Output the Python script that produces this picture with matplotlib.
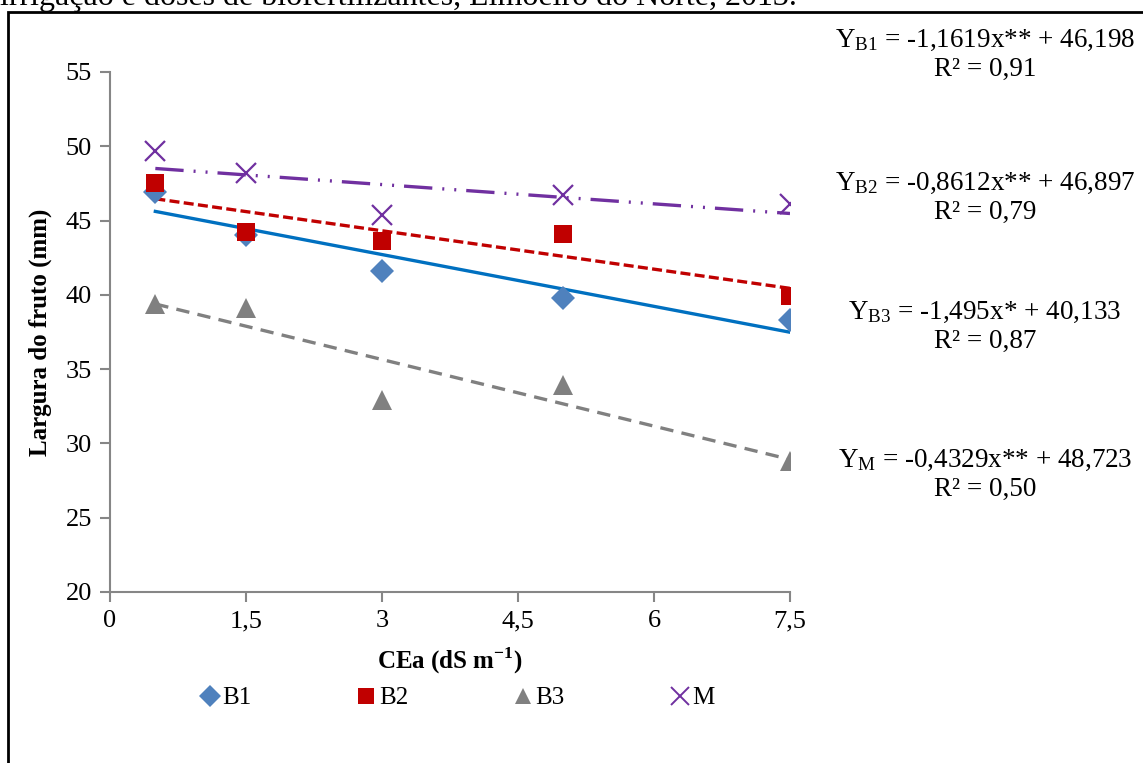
import matplotlib
matplotlib.use("Agg")
import matplotlib.pyplot as plt
from matplotlib.patches import Rectangle
from matplotlib.lines import Line2D
import numpy as np

plt.rcParams['font.family'] = ['Liberation Serif', 'DejaVu Serif']
plt.rcParams['mathtext.fontset'] = 'custom'
plt.rcParams['mathtext.rm'] = 'Liberation Serif'
plt.rcParams['mathtext.bf'] = 'Liberation Serif:bold'

# dados
cea = [0.5, 1.5, 3.0, 5.0, 7.5]
b1 = [46.9, 44.0, 41.6, 39.8, 38.3]
b2 = [47.5, 44.2, 43.6, 44.1, 39.9]
b3 = [39.4, 39.1, 32.9, 33.9, 28.8]
m = [49.7, 48.2, 45.4, 46.7, 46.1]

# coeficientes das retas (a*x + b)
coef_a = [-1.1619, -0.8612, -1.495, -0.4329]
coef_b = [46.198, 46.897, 40.133, 48.723]
r2 = ['0,91', '0,79', '0,87', '0,50']
nomes = ['B1', 'B2', 'B3', 'M']
estrelas = ['**', '**', '*', '**']

xticks = [0, 1.5, 3, 4.5, 6, 7.5]
xlabels = ['0', '1,5', '3', '4,5', '6', '7,5']
yticks = [20, 25, 30, 35, 40, 45, 50, 55]

fig = plt.figure(figsize=(11.43, 7.63), dpi=100)
ax = fig.add_axes([110 / 1143, 1 - 592 / 763, 680 / 1143, 520 / 763])

cor_pt = ['#4F81BD', '#C00000', '#808080', '#7030A0']
cor_ln = ['#0070C0', '#C00000', '#808080', '#7030A0']
marcas = ['D', 's', '^', 'x']
tam = [12, 13.5, 14, 14]
estilos = ['-', (0, (3, 1.3)), (0, (4, 2.5)), (0, (8.5, 3, 0.6, 3, 0.6, 3))]
series = [b1, b2, b3, m]

xs = np.array([cea[0], cea[-1]])
for i in range(4):
    ax.plot(xs, coef_a[i] * xs + coef_b[i], color=cor_ln[i], lw=2.4,
            linestyle=estilos[i], zorder=2)
for i in range(4):
    if marcas[i] == 'x':
        ax.plot(cea, series[i], linestyle='none', marker='x', color=cor_pt[i],
                markersize=tam[i], markeredgewidth=1.6, zorder=3)
    else:
        ax.plot(cea, series[i], linestyle='none', marker=marcas[i], color=cor_pt[i],
                markersize=tam[i], markeredgewidth=0, zorder=3)

ax.set_xlim(0, 7.5)
ax.set_ylim(20, 55)
ax.set_xticks(xticks)
ax.set_xticklabels(xlabels)
ax.set_yticks(yticks)
for s in ['top', 'right']:
    ax.spines[s].set_visible(False)
for s in ['left', 'bottom']:
    ax.spines[s].set_color('#868686')
    ax.spines[s].set_linewidth(1.5)
ax.tick_params(direction='out', length=7, width=1.5, color='#868686',
               labelsize=19, pad=6)
ax.set_ylabel('Largura do fruto (mm)', fontsize=18, fontweight='bold', labelpad=10)
ax.set_xlabel(r'CEa (dS m$^{\mathbf{-1}}$)', fontsize=18, fontweight='bold', labelpad=10)

# equações
ypos = [40, 183, 312, 460]
for i in range(4):
    t1 = r'$\mathregular{Y_{%s}}$ = %s' % (nomes[i], ('%g' % coef_a[i]).replace('.', ',')) \
        + 'x' + estrelas[i] + ' + ' + ('%.3f' % coef_b[i]).replace('.', ',')
    fig.text(985 / 1143, 1 - ypos[i] / 763, t1, fontsize=19.5, ha='center', va='center')
    fig.text(985 / 1143, 1 - (ypos[i] + 29) / 763, 'R² = ' + r2[i], fontsize=19.5,
             ha='center', va='center')

# legenda
handles = []
for i in range(4):
    if marcas[i] == 'x':
        handles.append(Line2D([], [], linestyle='none', marker='x', color=cor_pt[i],
                              markersize=13, markeredgewidth=1.4))
    else:
        handles.append(Line2D([], [], linestyle='none', marker=marcas[i], color=cor_pt[i],
                              markersize=11, markeredgewidth=0))
fig.legend(handles, nomes, loc='center', bbox_to_anchor=(456 / 1143, 1 - 698 / 763),
           ncol=4, frameon=False, fontsize=18, handletextpad=0.0, columnspacing=4.1,
           handlelength=1.0)

# moldura e título cortado
fig.add_artist(Rectangle((8 / 1143, -0.1), 2, (763 - 12) / 763 + 0.1,
                         transform=fig.transFigure, fill=False, lw=2, color='black'))
fig.text(0.0, 1 - 5 / 763, 'irrigação e doses de biofertilizantes, Limoeiro do Norte, 2013.',
         fontsize=23, ha='left', va='baseline')

fig.savefig('out.png', dpi=100)
